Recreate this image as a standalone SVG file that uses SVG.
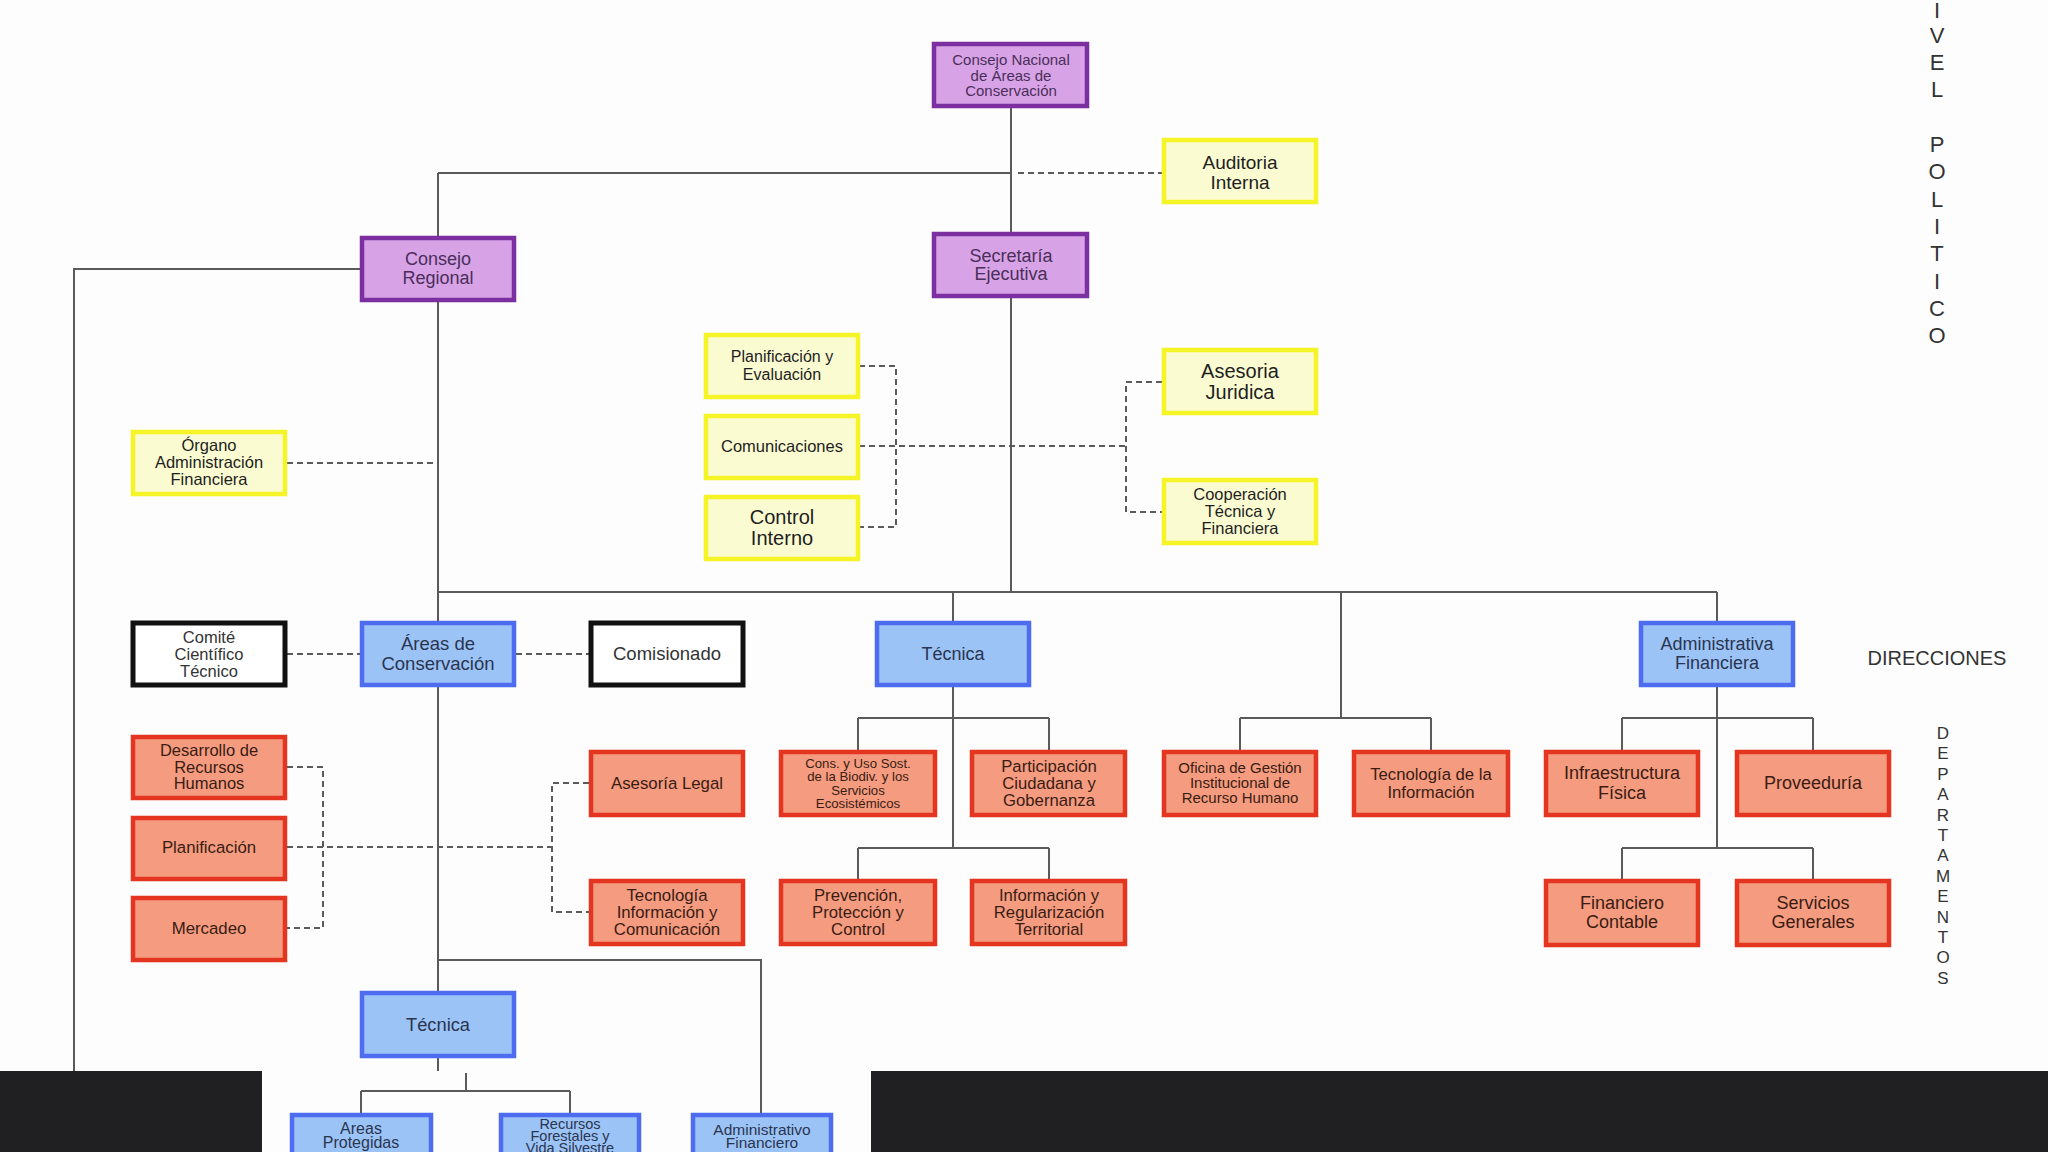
<svg xmlns="http://www.w3.org/2000/svg" width="2048" height="1152" viewBox="0 0 2048 1152">
<style>
text{font-family:"Liberation Sans",Arial,sans-serif;text-anchor:middle}
.pu rect{fill:#d7a3e6;stroke:#7b2fa0;stroke-width:4.5}
.pu text{fill:#4b2e5a}
.ye rect{fill:#fbfbd2;stroke:#f4f426;stroke-width:4.5}
.ye text{fill:#1e1e1e}
.bl rect{fill:#9cc3f6;stroke:#4e6cf0;stroke-width:4.5}
.bl text{fill:#2a3550}
.re rect{fill:#f49b80;stroke:#e3351f;stroke-width:4.5}
.re text{fill:#3a1c12}
.bk rect{fill:#ffffff;stroke:#111111;stroke-width:5}
.bk text{fill:#333333}
.solid{fill:none;stroke:#5a5a5a;stroke-width:2}
.dash{fill:none;stroke:#5a5a5a;stroke-width:2;stroke-dasharray:6 4}
.side{fill:#333333}
</style>
<rect x="0" y="0" width="2048" height="1152" fill="#fdfdfd"/>

<g id="connectors">
<path class="solid" d="M1011,108V232M1011,298V592M438,173H1011M438,173V236M360,269H74V1071M438,302V621M438,592H1717M953,592V621M1341,592V718M1717,592V621M438,687V991M438,960H761V1113M438,1058V1071M466,1073V1091M361,1091H570M361,1091V1113M570,1091V1113"/>
<path class="solid" d="M953,687V848M858,718H1049M858,718V750M1049,718V750M858,848H1049M858,848V879M1049,848V879M1240,718H1431M1240,718V750M1431,718V750M1717,687V848M1622,718H1813M1622,718V750M1813,718V750M1622,848H1813M1622,848V879M1813,848V879"/>
<path class="dash" d="M1018,173H1162M287,463H438M859,366H896V527H859M859,446H1126M1162,382H1126V512H1162M287,654H360M516,654H589M287,767H323V928H287M287,847H552M589,783H552V912H589"/>
</g>

<g id="consejo-nacional" class="pu"><rect x="934" y="44" width="153" height="62"/><text font-size="15"><tspan x="1011" y="65">Consejo Nacional</tspan><tspan x="1011" y="80.5">de Áreas de</tspan><tspan x="1011" y="96">Conservación</tspan></text></g>
<g id="secretaria-ejecutiva" class="pu"><rect x="934" y="234" width="153" height="62"/><text font-size="18"><tspan x="1011" y="262">Secretaría</tspan><tspan x="1011" y="280">Ejecutiva</tspan></text></g>
<g id="consejo-regional" class="pu"><rect x="362" y="238" width="152" height="62"/><text font-size="18"><tspan x="438" y="265">Consejo</tspan><tspan x="438" y="284">Regional</tspan></text></g>

<g id="auditoria-interna" class="ye"><rect x="1164" y="140" width="152" height="62"/><text font-size="19"><tspan x="1240" y="169">Auditoria</tspan><tspan x="1240" y="189">Interna</tspan></text></g>
<g id="planificacion-evaluacion" class="ye"><rect x="706" y="335" width="152" height="62"/><text font-size="16"><tspan x="782" y="362">Planificación y</tspan><tspan x="782" y="380">Evaluación</tspan></text></g>
<g id="comunicaciones" class="ye"><rect x="706" y="416" width="152" height="62"/><text font-size="16.5"><tspan x="782" y="452">Comunicaciones</tspan></text></g>
<g id="control-interno" class="ye"><rect x="706" y="497" width="152" height="62"/><text font-size="20"><tspan x="782" y="524">Control</tspan><tspan x="782" y="545">Interno</tspan></text></g>
<g id="asesoria-juridica" class="ye"><rect x="1164" y="350" width="152" height="63"/><text font-size="20"><tspan x="1240" y="378">Asesoria</tspan><tspan x="1240" y="399">Juridica</tspan></text></g>
<g id="cooperacion" class="ye"><rect x="1164" y="480" width="152" height="63"/><text font-size="16.5"><tspan x="1240" y="500">Cooperación</tspan><tspan x="1240" y="517">Técnica y</tspan><tspan x="1240" y="534">Financiera</tspan></text></g>
<g id="organo-admin" class="ye"><rect x="133" y="432" width="152" height="62"/><text font-size="16.5"><tspan x="209" y="451">Órgano</tspan><tspan x="209" y="468">Administración</tspan><tspan x="209" y="485">Financiera</tspan></text></g>

<g id="comite" class="bk"><rect x="133" y="623" width="152" height="62"/><text font-size="16.5"><tspan x="209" y="643">Comité</tspan><tspan x="209" y="660">Científico</tspan><tspan x="209" y="677">Técnico</tspan></text></g>
<g id="comisionado" class="bk"><rect x="591" y="623" width="152" height="62"/><text font-size="18.5"><tspan x="667" y="660">Comisionado</tspan></text></g>

<g id="areas-conservacion" class="bl"><rect x="362" y="623" width="152" height="62"/><text font-size="18.5"><tspan x="438" y="650">Áreas de</tspan><tspan x="438" y="670">Conservación</tspan></text></g>
<g id="tecnica" class="bl"><rect x="877" y="623" width="152" height="62"/><text font-size="18"><tspan x="953" y="660">Técnica</tspan></text></g>
<g id="administrativa-financiera" class="bl"><rect x="1641" y="623" width="152" height="62"/><text font-size="18"><tspan x="1717" y="650">Administrativa</tspan><tspan x="1717" y="669">Financiera</tspan></text></g>
<g id="tecnica-regional" class="bl"><rect x="362" y="993" width="152" height="63"/><text font-size="18.3"><tspan x="438" y="1031">Técnica</tspan></text></g>
<g id="areas-protegidas" class="bl"><rect x="292" y="1115" width="139" height="62"/><text font-size="16"><tspan x="361" y="1134">Areas</tspan><tspan x="361" y="1148">Protegidas</tspan></text></g>
<g id="recursos-forestales" class="bl"><rect x="501" y="1115" width="138" height="62"/><text font-size="14.5"><tspan x="570" y="1129">Recursos</tspan><tspan x="570" y="1141">Forestales y</tspan><tspan x="570" y="1153">Vida Silvestre</tspan></text></g>
<g id="administrativo-financiero" class="bl"><rect x="693" y="1115" width="138" height="62"/><text font-size="15.5"><tspan x="762" y="1135">Administrativo</tspan><tspan x="762" y="1148">Financiero</tspan></text></g>

<g id="desarrollo-rh" class="re"><rect x="133" y="737" width="152" height="61"/><text font-size="16.5"><tspan x="209" y="756">Desarrollo de</tspan><tspan x="209" y="773">Recursos</tspan><tspan x="209" y="789">Humanos</tspan></text></g>
<g id="planificacion" class="re"><rect x="133" y="818" width="152" height="61"/><text font-size="16.8"><tspan x="209" y="853">Planificación</tspan></text></g>
<g id="mercadeo" class="re"><rect x="133" y="898" width="152" height="62"/><text font-size="16.8"><tspan x="209" y="934">Mercadeo</tspan></text></g>
<g id="asesoria-legal" class="re"><rect x="591" y="752" width="152" height="63"/><text font-size="16.8"><tspan x="667" y="789">Asesoría Legal</tspan></text></g>
<g id="tecnologia-ic" class="re"><rect x="591" y="881" width="152" height="63"/><text font-size="16.8"><tspan x="667" y="901">Tecnología</tspan><tspan x="667" y="918">Información y</tspan><tspan x="667" y="935">Comunicación</tspan></text></g>
<g id="cons-uso-sost" class="re"><rect x="781" y="752" width="154" height="63"/><text font-size="13.2"><tspan x="858" y="768">Cons. y Uso Sost.</tspan><tspan x="858" y="781">de la Biodiv. y los</tspan><tspan x="858" y="795">Servicios</tspan><tspan x="858" y="808">Ecosistémicos</tspan></text></g>
<g id="participacion" class="re"><rect x="972" y="752" width="153" height="63"/><text font-size="16.7"><tspan x="1049" y="772">Participación</tspan><tspan x="1049" y="789">Ciudadana y</tspan><tspan x="1049" y="806">Gobernanza</tspan></text></g>
<g id="oficina-gestion" class="re"><rect x="1164" y="752" width="152" height="63"/><text font-size="15"><tspan x="1240" y="773">Oficina de Gestión</tspan><tspan x="1240" y="788">Institucional de</tspan><tspan x="1240" y="803">Recurso Humano</tspan></text></g>
<g id="tecnologia-informacion" class="re"><rect x="1354" y="752" width="154" height="63"/><text font-size="16.7"><tspan x="1431" y="780">Tecnología de la</tspan><tspan x="1431" y="798">Información</tspan></text></g>
<g id="infraestructura" class="re"><rect x="1546" y="752" width="152" height="63"/><text font-size="18"><tspan x="1622" y="779">Infraestructura</tspan><tspan x="1622" y="799">Física</tspan></text></g>
<g id="proveeduria" class="re"><rect x="1737" y="752" width="152" height="63"/><text font-size="18"><tspan x="1813" y="789">Proveeduría</tspan></text></g>
<g id="prevencion" class="re"><rect x="781" y="881" width="154" height="63"/><text font-size="16.7"><tspan x="858" y="901">Prevención,</tspan><tspan x="858" y="918">Protección y</tspan><tspan x="858" y="935">Control</tspan></text></g>
<g id="informacion-regularizacion" class="re"><rect x="972" y="881" width="153" height="63"/><text font-size="16.7"><tspan x="1049" y="901">Información y</tspan><tspan x="1049" y="918">Regularización</tspan><tspan x="1049" y="935">Territorial</tspan></text></g>
<g id="financiero-contable" class="re"><rect x="1546" y="881" width="152" height="64"/><text font-size="18"><tspan x="1622" y="909">Financiero</tspan><tspan x="1622" y="928">Contable</tspan></text></g>
<g id="servicios-generales" class="re"><rect x="1737" y="881" width="152" height="64"/><text font-size="18"><tspan x="1813" y="909">Servicios</tspan><tspan x="1813" y="928">Generales</tspan></text></g>

<g id="labels" class="side">
<text font-size="22" x="1937"><tspan x="1937" y="18">I</tspan><tspan x="1937" y="42.8">V</tspan><tspan x="1937" y="70.1">E</tspan><tspan x="1937" y="97.4">L</tspan><tspan x="1937" y="152">P</tspan><tspan x="1937" y="179.3">O</tspan><tspan x="1937" y="206.6">L</tspan><tspan x="1937" y="233.9">I</tspan><tspan x="1937" y="261.2">T</tspan><tspan x="1937" y="288.5">I</tspan><tspan x="1937" y="315.8">C</tspan><tspan x="1937" y="343.1">O</tspan></text>
<text font-size="20" x="1937" y="665">DIRECCIONES</text>
<text font-size="17"><tspan x="1943" y="739">D</tspan><tspan x="1943" y="759.4">E</tspan><tspan x="1943" y="779.8">P</tspan><tspan x="1943" y="800.2">A</tspan><tspan x="1943" y="820.6">R</tspan><tspan x="1943" y="841">T</tspan><tspan x="1943" y="861.4">A</tspan><tspan x="1943" y="881.8">M</tspan><tspan x="1943" y="902.2">E</tspan><tspan x="1943" y="922.6">N</tspan><tspan x="1943" y="943">T</tspan><tspan x="1943" y="963.4">O</tspan><tspan x="1943" y="983.8">S</tspan></text>
</g>

<rect x="0" y="1071" width="262" height="81" fill="#202022"/>
<rect x="871" y="1071" width="1177" height="81" fill="#202022"/>
</svg>
